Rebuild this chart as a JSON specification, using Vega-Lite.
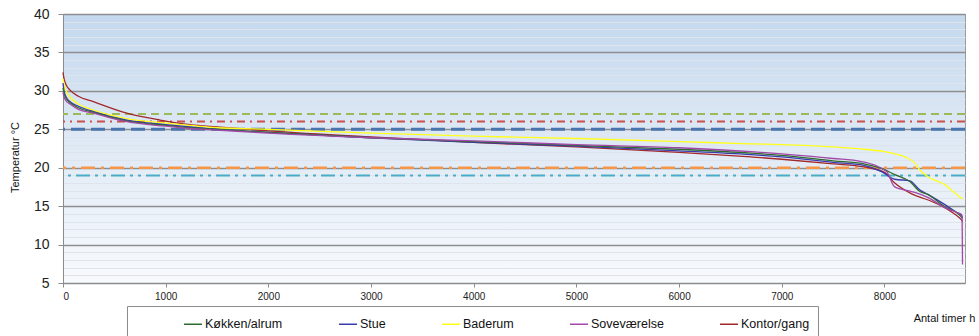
{
  "$schema": "https://vega.github.io/schema/vega-lite/v6.json",
  "autosize": {"type": "none"},
  "width": 902,
  "height": 269,
  "padding": {"left": 63, "top": 14, "right": 14, "bottom": 53},
  "background": "#ffffff",
  "config": {
    "font": "Liberation Sans",
    "view": {
      "stroke": "#9a9a9a",
      "strokeWidth": 1,
      "fill": {"gradient": "linear", "x1": 0, "y1": 0, "x2": 0, "y2": 1,
        "stops": [{"offset": 0, "color": "#c4d8ee"}, {"offset": 0.55, "color": "#e3ecf6"}, {"offset": 1, "color": "#f8fafd"}]}
    }
  },
  "datasets": {
    "temps": [
      {"room": "Kontor/gang", "h": 0, "T": 32.4},
      {"room": "Kontor/gang", "h": 10, "T": 31.6},
      {"room": "Kontor/gang", "h": 30, "T": 30.8},
      {"room": "Kontor/gang", "h": 68, "T": 30.1},
      {"room": "Kontor/gang", "h": 150, "T": 29.3},
      {"room": "Kontor/gang", "h": 296, "T": 28.6},
      {"room": "Kontor/gang", "h": 621, "T": 27.1},
      {"room": "Kontor/gang", "h": 946, "T": 26.2},
      {"room": "Kontor/gang", "h": 1239, "T": 25.6},
      {"room": "Kontor/gang", "h": 1500, "T": 25.3},
      {"room": "Kontor/gang", "h": 2000, "T": 24.8},
      {"room": "Kontor/gang", "h": 3000, "T": 24.0},
      {"room": "Kontor/gang", "h": 4000, "T": 23.3},
      {"room": "Kontor/gang", "h": 5000, "T": 22.7},
      {"room": "Kontor/gang", "h": 6000, "T": 22.0},
      {"room": "Kontor/gang", "h": 6700, "T": 21.4},
      {"room": "Kontor/gang", "h": 7000, "T": 21.1},
      {"room": "Kontor/gang", "h": 7500, "T": 20.5},
      {"room": "Kontor/gang", "h": 7800, "T": 20.1},
      {"room": "Kontor/gang", "h": 8000, "T": 19.4},
      {"room": "Kontor/gang", "h": 8100, "T": 18.0},
      {"room": "Kontor/gang", "h": 8265, "T": 16.6},
      {"room": "Kontor/gang", "h": 8426, "T": 15.8},
      {"room": "Kontor/gang", "h": 8587, "T": 14.8},
      {"room": "Kontor/gang", "h": 8700, "T": 13.8},
      {"room": "Kontor/gang", "h": 8750, "T": 13.2},
      {"room": "Kontor/gang", "h": 8760, "T": 13.0},
      {"room": "Baderum", "h": 0, "T": 31.6},
      {"room": "Baderum", "h": 10, "T": 30.8},
      {"room": "Baderum", "h": 30, "T": 30.0},
      {"room": "Baderum", "h": 68, "T": 29.2},
      {"room": "Baderum", "h": 150, "T": 28.3},
      {"room": "Baderum", "h": 296, "T": 27.5},
      {"room": "Baderum", "h": 621, "T": 26.4},
      {"room": "Baderum", "h": 1000, "T": 25.8},
      {"room": "Baderum", "h": 1239, "T": 25.5},
      {"room": "Baderum", "h": 1500, "T": 25.2},
      {"room": "Baderum", "h": 2000, "T": 25.0},
      {"room": "Baderum", "h": 3000, "T": 24.5},
      {"room": "Baderum", "h": 4000, "T": 24.1},
      {"room": "Baderum", "h": 5000, "T": 23.8},
      {"room": "Baderum", "h": 6000, "T": 23.4},
      {"room": "Baderum", "h": 6700, "T": 23.1},
      {"room": "Baderum", "h": 7000, "T": 23.0},
      {"room": "Baderum", "h": 7500, "T": 22.7},
      {"room": "Baderum", "h": 7800, "T": 22.4},
      {"room": "Baderum", "h": 8000, "T": 22.1},
      {"room": "Baderum", "h": 8100, "T": 21.8},
      {"room": "Baderum", "h": 8200, "T": 21.4},
      {"room": "Baderum", "h": 8296, "T": 20.6},
      {"room": "Baderum", "h": 8345, "T": 19.7},
      {"room": "Baderum", "h": 8426, "T": 18.8},
      {"room": "Baderum", "h": 8588, "T": 17.8},
      {"room": "Baderum", "h": 8686, "T": 16.7},
      {"room": "Baderum", "h": 8751, "T": 16.0},
      {"room": "Baderum", "h": 8760, "T": 15.9},
      {"room": "Stue", "h": 0, "T": 31.0},
      {"room": "Stue", "h": 10, "T": 30.0},
      {"room": "Stue", "h": 30, "T": 29.2},
      {"room": "Stue", "h": 68, "T": 28.6},
      {"room": "Stue", "h": 150, "T": 28.0},
      {"room": "Stue", "h": 296, "T": 27.3},
      {"room": "Stue", "h": 621, "T": 26.2},
      {"room": "Stue", "h": 1000, "T": 25.6},
      {"room": "Stue", "h": 1239, "T": 25.3},
      {"room": "Stue", "h": 1500, "T": 25.0},
      {"room": "Stue", "h": 2000, "T": 24.6},
      {"room": "Stue", "h": 3000, "T": 23.9},
      {"room": "Stue", "h": 4000, "T": 23.3},
      {"room": "Stue", "h": 5000, "T": 22.8},
      {"room": "Stue", "h": 6000, "T": 22.2},
      {"room": "Stue", "h": 6700, "T": 21.7},
      {"room": "Stue", "h": 7000, "T": 21.4},
      {"room": "Stue", "h": 7500, "T": 20.7},
      {"room": "Stue", "h": 7800, "T": 20.3},
      {"room": "Stue", "h": 7971, "T": 19.5},
      {"room": "Stue", "h": 8101, "T": 18.5},
      {"room": "Stue", "h": 8247, "T": 18.3},
      {"room": "Stue", "h": 8345, "T": 17.1},
      {"room": "Stue", "h": 8426, "T": 16.5},
      {"room": "Stue", "h": 8588, "T": 15.2},
      {"room": "Stue", "h": 8700, "T": 14.2},
      {"room": "Stue", "h": 8750, "T": 13.8},
      {"room": "Stue", "h": 8760, "T": 13.4},
      {"room": "Køkken/alrum", "h": 0, "T": 30.4},
      {"room": "Køkken/alrum", "h": 10, "T": 29.7},
      {"room": "Køkken/alrum", "h": 30, "T": 29.0},
      {"room": "Køkken/alrum", "h": 68, "T": 28.5},
      {"room": "Køkken/alrum", "h": 150, "T": 27.8},
      {"room": "Køkken/alrum", "h": 296, "T": 27.2},
      {"room": "Køkken/alrum", "h": 621, "T": 26.1},
      {"room": "Køkken/alrum", "h": 1000, "T": 25.5},
      {"room": "Køkken/alrum", "h": 1239, "T": 25.2},
      {"room": "Køkken/alrum", "h": 1500, "T": 25.0},
      {"room": "Køkken/alrum", "h": 2000, "T": 24.6},
      {"room": "Køkken/alrum", "h": 3000, "T": 23.9},
      {"room": "Køkken/alrum", "h": 4000, "T": 23.4},
      {"room": "Køkken/alrum", "h": 5000, "T": 22.9},
      {"room": "Køkken/alrum", "h": 6000, "T": 22.4},
      {"room": "Køkken/alrum", "h": 6700, "T": 21.9},
      {"room": "Køkken/alrum", "h": 7000, "T": 21.6},
      {"room": "Køkken/alrum", "h": 7500, "T": 20.9},
      {"room": "Køkken/alrum", "h": 7800, "T": 20.5},
      {"room": "Køkken/alrum", "h": 7971, "T": 19.9},
      {"room": "Køkken/alrum", "h": 8101, "T": 19.1},
      {"room": "Køkken/alrum", "h": 8247, "T": 18.2},
      {"room": "Køkken/alrum", "h": 8345, "T": 16.9},
      {"room": "Køkken/alrum", "h": 8426, "T": 16.5},
      {"room": "Køkken/alrum", "h": 8588, "T": 14.9},
      {"room": "Køkken/alrum", "h": 8700, "T": 14.2},
      {"room": "Køkken/alrum", "h": 8750, "T": 13.6},
      {"room": "Køkken/alrum", "h": 8760, "T": 13.5},
      {"room": "Soveværelse", "h": 0, "T": 29.8},
      {"room": "Soveværelse", "h": 10, "T": 29.2},
      {"room": "Soveværelse", "h": 30, "T": 28.7},
      {"room": "Soveværelse", "h": 68, "T": 28.3},
      {"room": "Soveværelse", "h": 150, "T": 27.6},
      {"room": "Soveværelse", "h": 296, "T": 27.1},
      {"room": "Soveværelse", "h": 621, "T": 26.0},
      {"room": "Soveværelse", "h": 1000, "T": 25.4},
      {"room": "Soveværelse", "h": 1239, "T": 25.1},
      {"room": "Soveværelse", "h": 1500, "T": 24.9},
      {"room": "Soveværelse", "h": 2000, "T": 24.5},
      {"room": "Soveværelse", "h": 3000, "T": 23.9},
      {"room": "Soveværelse", "h": 4000, "T": 23.5},
      {"room": "Soveværelse", "h": 5000, "T": 23.0},
      {"room": "Soveværelse", "h": 6000, "T": 22.6},
      {"room": "Soveværelse", "h": 6700, "T": 22.1},
      {"room": "Soveværelse", "h": 7000, "T": 21.8},
      {"room": "Soveværelse", "h": 7500, "T": 21.2},
      {"room": "Soveværelse", "h": 7775, "T": 20.8},
      {"room": "Soveværelse", "h": 8020, "T": 19.5},
      {"room": "Soveværelse", "h": 8100, "T": 17.5},
      {"room": "Soveværelse", "h": 8265, "T": 16.9},
      {"room": "Soveværelse", "h": 8426, "T": 16.1},
      {"room": "Soveværelse", "h": 8588, "T": 14.8},
      {"room": "Soveværelse", "h": 8700, "T": 14.2},
      {"room": "Soveværelse", "h": 8750, "T": 13.9},
      {"room": "Soveværelse", "h": 8755, "T": 13.5},
      {"room": "Soveværelse", "h": 8760, "T": 7.4}
    ]
  },
  "layer": [
    {
      "data": {"values": [{"T": 27}]},
      "mark": {"type": "rule", "color": "#9bbb59", "strokeWidth": 2, "strokeDash": [8, 5]},
      "encoding": {"y": {"field": "T", "type": "quantitative", "scale": {"domain": [5, 40], "nice": false, "zero": false}}}
    },
    {
      "data": {"values": [{"T": 26}]},
      "mark": {"type": "rule", "color": "#c9504d", "strokeWidth": 2, "strokeDash": [8, 5, 2, 5]},
      "encoding": {"y": {"field": "T", "type": "quantitative", "scale": {"domain": [5, 40], "nice": false, "zero": false}}}
    },
    {
      "data": {"values": [{"T": 25}]},
      "mark": {"type": "rule", "color": "#4a74ad", "strokeWidth": 3, "strokeDash": [14, 6]},
      "encoding": {"y": {"field": "T", "type": "quantitative", "scale": {"domain": [5, 40], "nice": false, "zero": false}}}
    },
    {
      "data": {"values": [{"T": 20}]},
      "mark": {"type": "rule", "color": "#f79646", "strokeWidth": 2.5, "strokeDash": [14, 6, 3, 6]},
      "encoding": {"y": {"field": "T", "type": "quantitative", "scale": {"domain": [5, 40], "nice": false, "zero": false}}}
    },
    {
      "data": {"values": [{"T": 19}]},
      "mark": {"type": "rule", "color": "#4bacc6", "strokeWidth": 2, "strokeDash": [14, 5, 3, 5, 3, 5]},
      "encoding": {"y": {"field": "T", "type": "quantitative", "scale": {"domain": [5, 40], "nice": false, "zero": false}}}
    },
    {
      "data": {"name": "temps"},
      "mark": {"type": "line", "strokeWidth": 1.3, "interpolate": "monotone"},
      "encoding": {
        "x": {
          "field": "h", "type": "quantitative",
          "scale": {"domain": [0, 8784], "nice": false},
          "axis": {
            "values": [0, 1000, 2000, 3000, 4000, 5000, 6000, 7000, 8000],
            "format": "d",
            "grid": false,
            "domainColor": "#8c8c8c",
            "tickColor": "#8c8c8c",
            "tickSize": 4,
            "labelFontSize": 10,
            "labelColor": "#222222",
            "labelPadding": 4,
            "title": "Antal timer h",
            "titleFontSize": 11,
            "titleFontWeight": "normal",
            "titleColor": "#111111",
            "titleX": 881,
            "titleY": 35,
            "titleAlign": "center",
            "titleBaseline": "middle"
          }
        },
        "y": {
          "field": "T", "type": "quantitative",
          "scale": {"domain": [5, 40], "nice": false, "zero": false},
          "axis": {
            "values": [5,6,7,8,9,10,11,12,13,14,15,16,17,18,19,20,21,22,23,24,25,26,27,28,29,30,31,32,33,34,35,36,37,38,39,40],
            "tickCount": 100,
            "format": "d",
            "labelExpr": "datum.value % 5 === 0 ? datum.label : ''",
            "labelOverlap": false,
            "tickOpacity": {"condition": {"test": "datum.value % 5 === 0", "value": 1}, "value": 0},
            "grid": true,
            "gridColor": {"condition": {"test": "datum.value % 5 === 0", "value": "#8e8e8e"}, "value": "#dde4ec"},
            "gridWidth": {"condition": {"test": "datum.value % 5 === 0", "value": 1.5}, "value": 1},
            "domainColor": "#8c8c8c",
            "tickColor": "#8c8c8c",
            "tickSize": 5,
            "labelFontSize": 14,
            "labelColor": "#222222",
            "labelPadding": 9,
            "title": "Temperatur °C",
            "titleFontSize": 11,
            "titleFontWeight": "normal",
            "titleColor": "#111111",
            "titleX": -48,
            "titleY": 143,
            "titleAlign": "center",
            "titleBaseline": "middle"
          }
        },
        "color": {
          "field": "room", "type": "nominal",
          "scale": {
            "domain": ["Køkken/alrum", "Stue", "Baderum", "Soveværelse", "Kontor/gang"],
            "range": ["#2f6b2f", "#3a3aae", "#ffff1a", "#a347a8", "#a3282a"]
          },
          "legend": {
            "orient": "none",
            "legendX": 64,
            "legendY": 292,
            "direction": "horizontal",
            "columns": 5,
            "title": " ",
            "titleOrient": "left",
            "titlePadding": 48,
            "titleFontSize": 11,
            "padding": 8,
            "strokeColor": "#8c8c8c",
            "fillColor": "#ffffff",
            "symbolType": "stroke",
            "symbolSize": 324,
            "symbolStrokeWidth": 1.5,
            "labelFontSize": 12.5,
            "labelColor": "#111111",
            "labelOffset": 2,
            "columnPadding": 53
          }
        }
      }
    }
  ]
}
